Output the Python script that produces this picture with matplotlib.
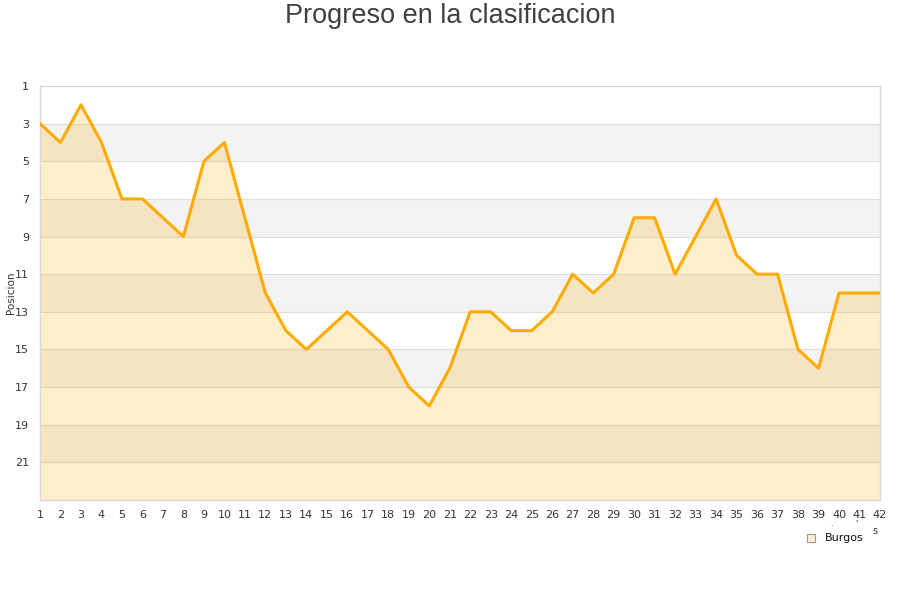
import matplotlib
matplotlib.use("Agg")
import matplotlib.pyplot as plt
from matplotlib.patches import Rectangle

jornadas = list(range(1, 43))
posiciones = [3, 4, 2, 4, 7, 7, 8, 9, 5, 4, 8, 12, 14, 15, 14, 13, 14, 15, 17, 18, 16,
              13, 13, 14, 14, 13, 11, 12, 11, 8, 8, 11, 9, 7, 10, 11, 11, 15, 16, 12, 12, 12]
y_ticks = [1, 3, 5, 7, 9, 11, 13, 15, 17, 19, 21]
equipo = "Burgos"
titulo = "Progreso en la clasificacion"
y_label = "Posicion"

fig = plt.figure(figsize=(9, 6), dpi=100)
ax = fig.add_axes([40/900, 1-500/600, 840/900, 414/600])
ax.set_xlim(1, 42)
ax.set_ylim(23, 1)

# alternating bands
for lo in range(3, 23, 4):
    ax.axhspan(lo, lo + 2, color="#f3f3f3", zorder=0, lw=0)
for yv in range(3, 23, 2):
    ax.axhline(yv, color="#dedede", lw=0.8, zorder=1)

ax.fill_between(jornadas, posiciones, 23, color="#ffaa00", alpha=0.2, lw=0, zorder=2)
ax.plot(jornadas, posiciones, color="#ffaa00", lw=2.2, zorder=3)

ax.set_yticks(y_ticks)
ax.set_xticks(jornadas)
ax.tick_params(length=0, labelsize=8, colors="#333333", pad=7)
ax.tick_params(axis="y", pad=8)
for s in ax.spines.values():
    s.set_color("#d8d8d8")
    s.set_linewidth(1)

fig.text(0.5, 1-16/600, titulo, ha="center", va="center", fontsize=19.5,
         family="Liberation Sans", color="#404040")
fig.text(11/900, 1-293/600, y_label, rotation=90, ha="center", va="center",
         fontsize=7.5, color="#333333")

# legend
fig.patches.append(Rectangle((807/900, 1-542/600), 8/900, 8/600, transform=fig.transFigure,
                             facecolor="#ffeecc", edgecolor="#999999", lw=0.8))
fig.text(825/900, 1-538/600, equipo, ha="left", va="center", fontsize=8, color="#111111")
fig.text(875/900, 1-531/600, "s", ha="center", va="center", fontsize=7, color="#333333")
fig.text(831/900, 1-524/600, ".", ha="center", va="center", fontsize=6, color="#333333")
fig.text(856/900, 1-524/600, "'", ha="center", va="center", fontsize=6, color="#333333")

fig.savefig("out.png", dpi=100, facecolor="white")
